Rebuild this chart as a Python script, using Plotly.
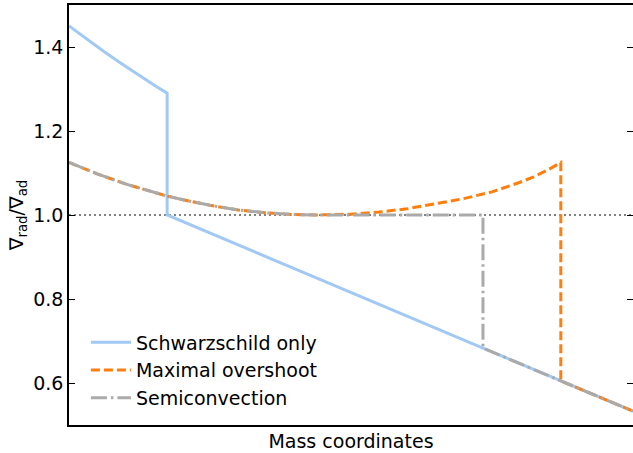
import plotly.graph_objects as go

# Schwarzschild only
sch_x = [0.0, 0.03, 0.06, 0.09, 0.12, 0.15, 0.174, 0.174, 0.734, 0.872, 1.0]
sch_y = [1.45, 1.420, 1.391, 1.363, 1.336, 1.310, 1.29, 1.0, 0.683, 0.605, 0.533]

# Maximal overshoot
ov_x = [0.0, 0.05, 0.1, 0.174, 0.2, 0.25, 0.3, 0.35, 0.4, 0.436, 0.5, 0.55, 0.6,
        0.647, 0.7, 0.75, 0.8, 0.824, 0.85, 0.872, 0.872, 1.0]
ov_y = [1.125, 1.098, 1.074, 1.045, 1.037, 1.023, 1.012, 1.005, 1.001, 1.0, 1.002,
        1.007, 1.015, 1.026, 1.039, 1.055, 1.078, 1.091, 1.108, 1.125, 0.605, 0.533]

# Semiconvection
sc_x = [0.0, 0.05, 0.1, 0.174, 0.2, 0.25, 0.3, 0.35, 0.4, 0.436, 0.734, 0.734, 0.872, 1.0]
sc_y = [1.125, 1.098, 1.074, 1.045, 1.037, 1.023, 1.012, 1.005, 1.001, 1.0, 1.0, 0.683, 0.605, 0.533]

# Reference line
ref_x = [0.0, 1.0]
ref_y = [1.0, 1.0]

y_ticks = [0.6, 0.8, 1.0, 1.2, 1.4]
y_tick_labels = ["0.6", "0.8", "1.0", "1.2", "1.4"]

fig = go.Figure()
fig.add_trace(go.Scatter(x=ref_x, y=ref_y, mode="lines", showlegend=False,
                         line=dict(color="#808080", width=2, dash="2px,3px")))
fig.add_trace(go.Scatter(x=sch_x, y=sch_y, mode="lines", name="Schwarzschild only",
                         line=dict(color="#a1c9f4", width=3)))
fig.add_trace(go.Scatter(x=ov_x, y=ov_y, mode="lines", name="Maximal overshoot",
                         line=dict(color="#ff7f0e", width=3, dash="9px,4px")))
fig.add_trace(go.Scatter(x=sc_x, y=sc_y, mode="lines", name="Semiconvection",
                         line=dict(color="#aaaaaa", width=3, dash="16px,4px,2.5px,4px")))

fig.update_layout(
    width=633, height=453,
    margin=dict(l=69, r=0, t=5, b=28, autoexpand=False),
    paper_bgcolor="white", plot_bgcolor="white",
    font=dict(family="DejaVu Sans", size=19, color="black"),
    showlegend=True,
    legend=dict(x=0.03, y=0.018, xanchor="left", yanchor="bottom",
                bgcolor="rgba(0,0,0,0)", font=dict(size=19), tracegroupgap=0,
                itemwidth=40),
    xaxis=dict(range=[0, 1], showticklabels=False, ticks="", showgrid=False,
               zeroline=False, showline=True, linecolor="black", linewidth=1.5,
               mirror=True, automargin=False,
               title=dict(text="Mass coordinates", standoff=9, font=dict(size=19))),
    yaxis=dict(range=[0.5, 1.5], tickvals=y_ticks, ticktext=y_tick_labels,
               ticks="inside", ticklen=6, tickwidth=1.2, tickcolor="black",
               showgrid=False, zeroline=False, showline=True, linecolor="black",
               linewidth=1.5, mirror="ticks", automargin=False,
               title=dict(text="∇<sub>rad</sub>/∇<sub>ad</sub>", standoff=5,
                          font=dict(size=19))),
)

fig.write_html(
    "out.html",
    config={"displayModeBar": False},
    post_script="document.body.style.margin='0';document.body.style.overflow='hidden';",
)
